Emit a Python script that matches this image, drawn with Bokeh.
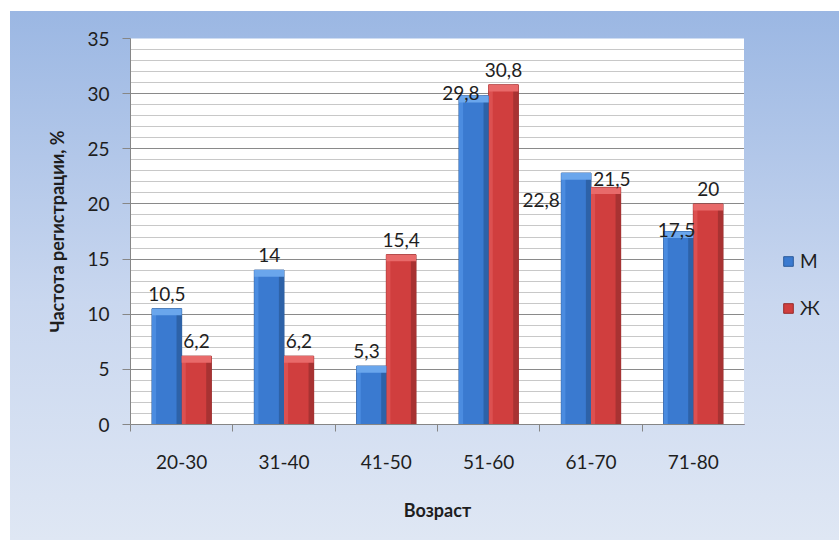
from bokeh.plotting import figure
from bokeh.layouts import row
from bokeh.models import (ColumnDataSource, FixedTicker, SingleIntervalTicker,
                          Legend, LegendItem, Range1d)
from bokeh.core.properties import value
from bokeh.embed import file_html
from bokeh.resources import INLINE

# ---- data ----
categories = ["20-30", "31-40", "41-50", "51-60", "61-70", "71-80"]
men = [10.5, 14, 5.3, 29.8, 22.8, 17.5]
women = [6.2, 6.2, 15.4, 30.8, 21.5, 20]
series_names = ["М", "Ж"]
men_labels = ["10,5", "14", "5,3", "29,8", "22,8", "17,5"]
women_labels = ["6,2", "6,2", "15,4", "30,8", "21,5", "20"]

# ---- label nudges (screen px, style only) ----
men_dx = [0, 0, -5, -13, -35, -2]
men_dy = [-15, -15, -15, -3, 27, -2]
women_dx = [0, 0, 0, 0, 6, 0]
women_dy = [-15, -15, -15, -15, -8, -15]

FONT = "Lato"
TXT = "#1e1e1e"
AX = "#868686"
BLUE, BLUE_EDGE, BLUE_LIGHT, BLUE_DARK, BLUE_TOP = "#3a7ad0", "#2a5a9a", "#4b8ce0", "#2d62a8", "#6aa6ec"
RED, RED_EDGE, RED_LIGHT, RED_DARK, RED_TOP = "#d03e3e", "#962b2b", "#dc5050", "#a83232", "#e86a6a"

n = len(categories)
half = 0.145
bw = 0.29
xm = [i + 0.5 - half for i in range(n)]
xw = [i + 0.5 + half for i in range(n)]

p = figure(width=734, height=529, output_backend="svg", toolbar_location=None,
           x_range=Range1d(0, n), y_range=Range1d(0, 35),
           min_border_left=120, min_border_right=0,
           min_border_top=27, min_border_bottom=116)
p.border_fill_color = None
p.background_fill_color = "white"
p.outline_line_color = None

# grid
p.yaxis.ticker = SingleIntervalTicker(interval=5, num_minor_ticks=5)
p.ygrid.grid_line_color = "#8a8a8a"
p.ygrid.minor_grid_line_color = "#c8c8c8"
p.xgrid.grid_line_color = None

# bars
src_m = ColumnDataSource(dict(x=xm, top=men, lab=men_labels, dx=men_dx, dy=men_dy,
                              bev=[v - 0.6 for v in men]))
src_w = ColumnDataSource(dict(x=xw, top=women, lab=women_labels, dx=women_dx, dy=women_dy,
                              bev=[v - 0.6 for v in women]))

p.vbar(x="x", top="top", width=bw, source=src_m, fill_color=BLUE,
       line_color=BLUE_EDGE, line_width=1)
p.vbar(x="x", top="top", width=bw, source=src_w, fill_color=RED,
       line_color=RED_EDGE, line_width=1)
# left light strips
p.vbar(x=[v - bw / 2 + 0.02 for v in xm], top=men, width=0.04,
       fill_color=BLUE_LIGHT, line_color=None)
p.vbar(x=[v - bw / 2 + 0.02 for v in xw], top=women, width=0.04,
       fill_color=RED_LIGHT, line_color=None)
# right dark strips
p.vbar(x=[v + bw / 2 - 0.025 for v in xm], top=men, width=0.05,
       fill_color=BLUE_DARK, line_color=None)
p.vbar(x=[v + bw / 2 - 0.025 for v in xw], top=women, width=0.05,
       fill_color=RED_DARK, line_color=None)
# top bevel
p.vbar(x="x", top="top", bottom="bev", width=bw, source=src_m,
       fill_color=BLUE_TOP, line_color=None)
p.vbar(x="x", top="top", bottom="bev", width=bw, source=src_w,
       fill_color=RED_TOP, line_color=None)

# value labels
for s in (src_m, src_w):
    p.text(x="x", y="top", text="lab", x_offset="dx", y_offset="dy", source=s,
           text_align="center", text_baseline="alphabetic",
           text_font=value(FONT), text_font_size="19px", text_color=TXT)

# axes
p.xaxis.ticker = FixedTicker(ticks=[i + 0.5 for i in range(n)],
                             minor_ticks=list(range(n + 1)))
p.xaxis.major_label_overrides = {i + 0.5: c for i, c in enumerate(categories)}
p.xaxis.major_tick_line_color = None
p.xaxis.minor_tick_line_color = AX
p.xaxis.minor_tick_out = 7
p.xaxis.minor_tick_in = 0
p.xaxis.axis_label = "Возраст"
p.xaxis.major_label_standoff = 23
p.xaxis.axis_label_standoff = 27

p.yaxis.major_tick_out = 8
p.yaxis.major_tick_in = 0
p.yaxis.minor_tick_line_color = None
p.yaxis.major_tick_line_color = AX
p.yaxis.axis_label = "Частота регистрации, %"
p.yaxis.major_label_standoff = 13
p.yaxis.axis_label_standoff = 16

for ax in (p.xaxis[0], p.yaxis[0]):
    ax.axis_line_color = AX
    ax.major_label_text_font = FONT
    ax.major_label_text_font_size = "19px"
    ax.major_label_text_color = TXT
    ax.axis_label_text_font = FONT
    ax.axis_label_text_font_size = "18px"
    ax.axis_label_text_font_style = "bold"
    ax.axis_label_text_color = TXT

# legend panel (separate small figure to the right of the plot area)
lg = figure(width=95, height=529, output_backend="svg", toolbar_location=None,
            x_range=Range1d(0, 1), y_range=Range1d(0, 1),
            min_border=0, min_border_left=0, min_border_right=0,
            min_border_top=0, min_border_bottom=0)
lg.axis.visible = False
lg.grid.visible = False
lg.outline_line_color = None
lg.border_fill_color = None
lg.background_fill_color = None
# proxy glyphs placed outside the visible range (only used for legend swatches)
lm = lg.vbar(x=[-5], top=[-4], bottom=[-5], width=0.1, fill_color=BLUE, line_color=BLUE_EDGE)
lw = lg.vbar(x=[-5], top=[-4], bottom=[-5], width=0.1, fill_color=RED, line_color=RED_EDGE)
legend = Legend(items=[LegendItem(label=series_names[0], renderers=[lm]),
                       LegendItem(label=series_names[1], renderers=[lw])],
                location=(38, 105), orientation="vertical",
                background_fill_alpha=0, border_line_color=None,
                padding=0, margin=0, spacing=24,
                glyph_width=12, glyph_height=12, label_height=20,
                label_standoff=6,
                label_text_font=FONT, label_text_font_size="19px",
                label_text_color=TXT)
lg.add_layout(legend, "center")

layout = row(p, lg, spacing=0,
             styles={"background": "linear-gradient(#9bb7e3, #c9d7ef 55%, #dfe7f4)",
                     "margin-left": "10px", "margin-top": "11px"})

open("out.html", "w").write(file_html(layout, INLINE))
